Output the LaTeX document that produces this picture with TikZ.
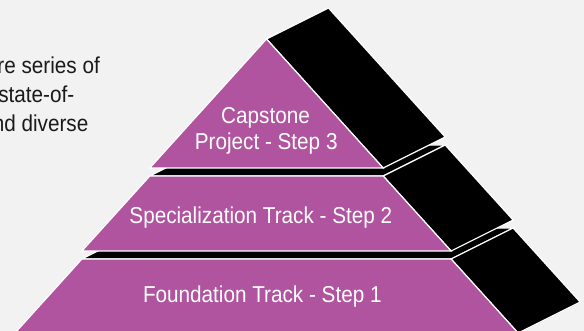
\documentclass[tikz,border=0pt]{standalone}
\usepackage{fontspec}
\setmainfont{Liberation Sans}[FakeStretch=0.9]
\usetikzlibrary{calc}
\definecolor{bgc}{RGB}{242,242,242}
\definecolor{tierpurple}{RGB}{177,84,159}
\definecolor{bodytext}{RGB}{26,26,26}
\tikzset{
  face/.style={draw=white, line width=1.2pt, line join=miter},
  front/.style={face, fill=tierpurple},
  dark/.style={face, fill=black},
  tierlabel/.style={text=white, font=\fontsize{23}{25}\selectfont, inner sep=0pt, anchor=base},
  bodyline/.style={text=bodytext, font=\fontsize{23}{25}\selectfont, inner sep=0pt, anchor=base east},
}
\begin{document}
\begin{tikzpicture}[x=1pt,y=-1pt]
\useasboundingbox (0,0) rectangle (584,331);
\fill[bgc] (0,0) rectangle (584,331);
\clip (0,0) rectangle (584,331);

% corner points of the three tiers (depth offset is (62,-31))
\coordinate (A)   at (266.5,39);
\coordinate (BL1) at (149.8,168);
\coordinate (BR1) at (383.2,168);
\coordinate (TL2) at (149.8,176);
\coordinate (TR2) at (383.2,176);
\coordinate (BL2) at (81.9,251);
\coordinate (BR2) at (451.1,251);
\coordinate (TL3) at (81.9,259);
\coordinate (TR3) at (451.1,259);
\coordinate (BL3) at (15,333);
\coordinate (BR3) at (518.1,333);

% bottom tier: top face, side face, front face
\draw[dark] (TL3) -- (TR3) -- ($(TR3)+(62,-31)$) -- ($(TL3)+(62,-31)$) -- cycle;
\draw[dark] (TR3) -- ($(TR3)+(62,-31)$) -- ($(BR3)+(62,-31)$) -- (BR3) -- cycle;
\draw[front] (TL3) -- (TR3) -- (BR3) -- (BL3) -- cycle;

% middle tier
\draw[dark] (TL2) -- (TR2) -- ($(TR2)+(62,-31)$) -- ($(TL2)+(62,-31)$) -- cycle;
\draw[dark] (TR2) -- ($(TR2)+(62,-31)$) -- ($(BR2)+(62,-31)$) -- (BR2) -- cycle;
\draw[front] (TL2) -- (TR2) -- (BR2) -- (BL2) -- cycle;

% top tier
\draw[dark] (A) -- ($(A)+(62,-31)$) -- ($(BR1)+(62,-31)$) -- (BR1) -- cycle;
\draw[front] (A) -- (BR1) -- (BL1) -- cycle;

% tier labels
\node[tierlabel] (cap1)  at (265.5,124)   {Capstone};
\node[tierlabel] (cap2)  at (266.2,149.3) {Project - Step 3};
\node[tierlabel] (spec)  at (260.8,223.3) {Specialization Track - Step 2};
\node[tierlabel] (found) at (262.3,302.3) {Foundation Track - Step 1};

% paragraph at the left edge
\node[bodyline] (l1) at (100,74)  {re series of};
\node[bodyline] (l2) at (74.5,103) {state-of-};
\node[bodyline] (l3) at (88.5,132) {nd diverse};
\end{tikzpicture}
\end{document}
